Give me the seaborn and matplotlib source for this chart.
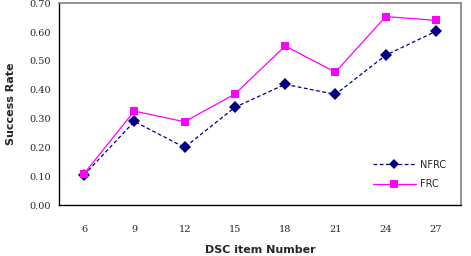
import pandas as pd
import seaborn as sns
import matplotlib.pyplot as plt

# values
items = [6, 9, 12, 15, 18, 21, 24, 27]
nfrc = [0.104, 0.290, 0.200, 0.339, 0.419, 0.384, 0.520, 0.603]
frc = [0.109, 0.326, 0.289, 0.385, 0.552, 0.461, 0.654, 0.641]
y_ticks = [0.0, 0.1, 0.2, 0.3, 0.4, 0.5, 0.6, 0.7]

pos = list(range(len(items)))
df = pd.DataFrame({
    'pos': pos + pos,
    'rate': nfrc + frc,
    'method': ['NFRC'] * len(items) + ['FRC'] * len(items),
})

sns.set_style('white')
fig = plt.figure(figsize=(4.71, 2.56), dpi=100)
ax = fig.add_axes([0.125, 0.199, 0.854, 0.788])

sns.lineplot(data=df, x='pos', y='rate', hue='method', style='method',
             palette={'NFRC': '#000080', 'FRC': '#FF00FF'},
             dashes={'NFRC': (3, 2), 'FRC': ''},
             markers={'NFRC': 'D', 'FRC': 's'},
             markersize=6, markeredgewidth=0, linewidth=0.9, ax=ax)

ax.set_xlim(-0.5, len(items) - 0.5)
ax.set_ylim(0, 0.7)
ax.set_yticks(y_ticks)
ax.set_yticklabels([f'{v:.2f}' for v in y_ticks], family='DejaVu Serif', fontsize=7)
ax.set_xticks([p + 0.5 for p in pos[:-1]])
ax.set_xticklabels([])
ax.set_xticks(pos, minor=True)
ax.set_xticklabels([str(i) for i in items], minor=True, family='DejaVu Serif', fontsize=7)
ax.tick_params(axis='both', which='major', direction='in', length=3, width=0.8, color='black')
ax.tick_params(axis='y', pad=6)
ax.tick_params(axis='x', which='minor', length=0, pad=14)

for side in ['left', 'bottom']:
    ax.spines[side].set_color('black')
    ax.spines[side].set_linewidth(1)
for side in ['top', 'right']:
    ax.spines[side].set_color('#808080')
    ax.spines[side].set_linewidth(1.2)

ax.set_xlabel('DSC item Number', fontsize=8, fontweight='bold', labelpad=8)
ax.set_ylabel('Success Rate', fontsize=8, fontweight='bold', labelpad=9)

leg = ax.legend(loc='lower right', frameon=False, fontsize=7, handlelength=4.5,
                handletextpad=0.4, bbox_to_anchor=(0.985, 0.035), labelspacing=1.0,
                markerscale=0.85)
for t in leg.get_texts():
    t.set_family('DejaVu Sans')

fig.savefig('out.png', dpi=100)
